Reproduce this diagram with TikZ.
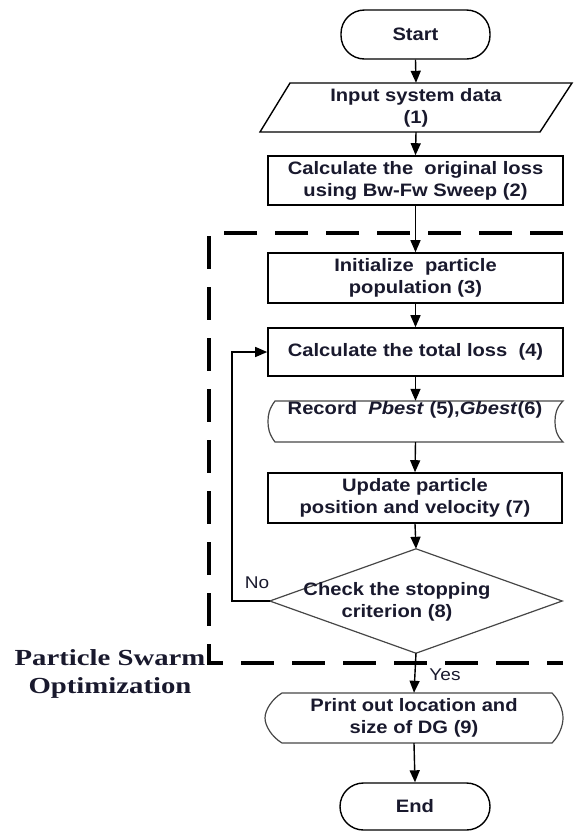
\documentclass[tikz,border=0pt]{standalone}
\usepackage{fontspec}
\setmainfont{Liberation Sans}[FakeStretch=1.12]
\newfontfamily\psofont{Liberation Serif}[FakeStretch=1.25]
\usetikzlibrary{arrows.meta}
\definecolor{txtc}{RGB}{25,25,45}
\definecolor{thin}{RGB}{70,70,70}
\begin{document}
\begin{tikzpicture}[x=1pt,y=-1pt,
  lab/.style={font=\bfseries\fontsize{18}{22}\selectfont, text=txtc, align=center, inner sep=0pt},
  box/.style={lab, draw, line width=1.6pt, minimum width=295pt, minimum height=49pt},
  term/.style={lab, draw, line width=1.4pt, rounded corners=23.5pt, minimum width=150pt, minimum height=48pt},
  anc/.style={lab, minimum width=295pt, minimum height=49pt},
  outl/.style={draw=thin, line width=1.2pt},
  arr/.style={line width=1.4pt, -{Triangle[length=12pt,width=10pt]}},
  psodash/.style={line width=3.6pt, dash pattern=on 33pt off 18pt},
  yn/.style={font=\fontsize{17}{20}\selectfont, text=txtc, inner sep=0pt}
]
\useasboundingbox (0,0) rectangle (577,831);

% dashed PSO frame
\draw[psodash] (563,233) -- (209,233) -- (209,663) -- (563,663);
\node[font=\psofont\bfseries\fontsize{23}{28}\selectfont, align=center, inner sep=0pt, text=txtc] (pso) at (110,673.5) {Particle Swarm\\Optimization};

% nodes
\node[term, minimum width=149pt, minimum height=49pt] (start) at (415.5,34.5) {Start};

\node[anc, minimum width=312pt] (in) at (416,107.5) {Input system data\\(1)};
\draw[line width=1.4pt] (260,132) -- (290,83) -- (572,83) -- (540,132) -- cycle;

\node[box] (c2) at (415.5,180.5) {Calculate the\ \ original loss\\using Bw-Fw Sweep (2)};
\node[box, minimum height=50pt] (init) at (415.5,278) {Initialize\ \ particle\\population (3)};
\node[box, minimum height=48pt] (tot) at (415.5,352) {Calculate the total loss\ \ (4)};

\node[anc, minimum height=41pt] (rec) at (415.5,421.5) {};
\draw[outl] (275,401) -- (563,401) .. controls (556,408) and (555,415) .. (555,421.5)
  .. controls (555,428) and (556,435) .. (563,442) -- (275,442)
  .. controls (269,434) and (268,428) .. (268,421.5)
  .. controls (268,415) and (269,409) .. (275,401) -- cycle;
\node[lab] (rect) at (415,410) {Record\ \ \textit{Pbest} (5),\textit{Gbest}(6)};

\node[box, minimum width=294pt, minimum height=50pt] (upd) at (415,498) {Update particle\\position and velocity (7)};

\node[anc, minimum width=292pt, minimum height=104pt] (dia) at (416,601) {};
\draw[outl] (dia.north) -- (dia.east) -- (dia.south) -- (dia.west) -- cycle;
\node[lab] (diat) at (397,602) {Check the stopping\\criterion (8)};

\node[anc, minimum width=298pt, minimum height=50pt] (pr) at (414,718) {Print out location and\\size of DG (9)};
\draw[outl] (282,693) -- (552,693) .. controls (559,700) and (563,710) .. (563,718)
  .. controls (563,726) and (559,736) .. (552,743) -- (282,743)
  .. controls (272,737) and (265,726) .. (265,718)
  .. controls (265,710) and (272,699) .. (282,693) -- cycle;

\node[term, minimum height=47pt] (end) at (415,806.5) {End};

% connectors
\draw[arr] (start.south) -- (in.north);
\draw[arr] (in.south) -- (c2.north);
\draw[arr] (c2.south) -- (init.north);
\draw[arr] (init.south) -- (tot.north);
\draw[arr] (tot.south) -- (rec.north);
\draw[arr] (rec.south) -- (upd.north);
\draw[arr] (upd.south) -- (dia.north);
\draw[arr] (dia.south) -- (pr.north);
\draw[arr] (pr.south) -- (end.north);
\draw[arr] (dia.west) -- ++(-38,0) |- (tot.west);

\node[yn] (no) at (257,583) {No};
\node[yn] (yes) at (445,675) {Yes};
\end{tikzpicture}
\end{document}
